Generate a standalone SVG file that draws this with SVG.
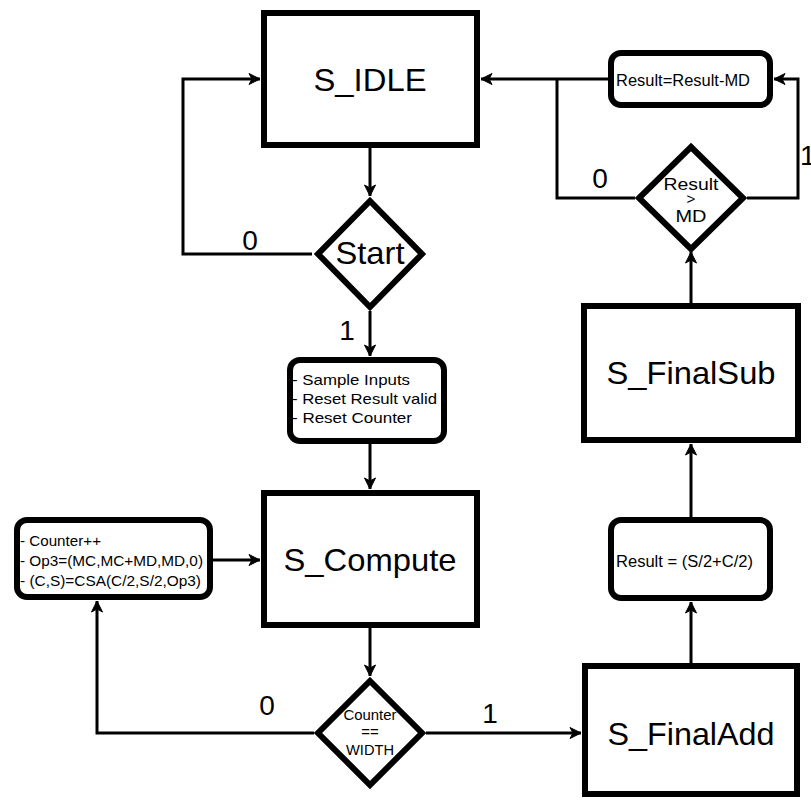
<svg xmlns="http://www.w3.org/2000/svg" width="811" height="801" viewBox="0 0 811 801">
  <style>
    .state { fill: #ffffff; stroke: #000000; stroke-width: 6; }
    .action { fill: #ffffff; stroke: #000000; stroke-width: 6; }
    .decision { fill: #ffffff; stroke: #000000; stroke-width: 6; stroke-linejoin: miter; }
    .edge { fill: none; stroke: #000000; stroke-width: 3; }
    .big { font-family: "Liberation Sans", Arial, sans-serif; font-size: 32px; fill: #000; text-anchor: middle; }
    .lbl { font-family: "Liberation Sans", Arial, sans-serif; font-size: 28px; fill: #000; text-anchor: middle; }
    .small { font-family: "Liberation Sans", Arial, sans-serif; font-size: 15px; fill: #000; }
    .mid { font-family: "Liberation Sans", Arial, sans-serif; font-size: 16px; fill: #000; }
    .dtxt { font-family: "Liberation Sans", Arial, sans-serif; fill: #000; text-anchor: middle; }
  </style>
  <defs>
    <marker id="arrow" markerUnits="userSpaceOnUse" viewBox="-12 -6 13 12" refX="0" refY="0" markerWidth="13" markerHeight="12" orient="auto">
      <path d="M-11,-5.5 L0,0 L-11,5.5 L-8,0 Z" fill="#000" stroke="#000" stroke-width="1"/>
    </marker>
  </defs>

  <rect width="811" height="801" fill="#ffffff"/>

  <!-- connectors and their branch labels -->
  <g id="connectors">
    <path class="edge" d="M370,148 L370,196" marker-end="url(#arrow)"/>
    <path class="edge" d="M312,254 L183,254 L183,79 L260,79" marker-end="url(#arrow)"/>
    <path class="edge" d="M370,311 L370,356" marker-end="url(#arrow)"/>
    <path class="edge" d="M370,444 L370,489" marker-end="url(#arrow)"/>
    <path class="edge" d="M213,560 L260,560" marker-end="url(#arrow)"/>
    <path class="edge" d="M370,628 L370,676" marker-end="url(#arrow)"/>
    <path class="edge" d="M314,733 L97,733 L97,601" marker-end="url(#arrow)"/>
    <path class="edge" d="M426,733 L581,733" marker-end="url(#arrow)"/>
    <path class="edge" d="M691,663 L691,602" marker-end="url(#arrow)"/>
    <path class="edge" d="M691,517 L691,444" marker-end="url(#arrow)"/>
    <path class="edge" d="M691,303 L691,252" marker-end="url(#arrow)"/>
    <path class="edge" d="M747,198 L798,198 L798,79 L774,79" marker-end="url(#arrow)"/>
    <path class="edge" d="M635,198 L557,198 L557,79"/>
    <path class="edge" d="M608,79 L481,79" marker-end="url(#arrow)"/>
    <text class="lbl" x="250" y="250">0</text>
    <text class="lbl" x="347" y="340">1</text>
    <text class="lbl" x="267" y="715">0</text>
    <text class="lbl" x="490" y="723">1</text>
    <text class="lbl" x="600" y="188">0</text>
    <text class="lbl" x="800" y="165" style="text-anchor:start">1</text>
  </g>

  <!-- states -->
  <g id="s_idle">
    <rect class="state" x="264" y="13" width="213" height="132"/>
    <text class="big" x="370" y="91" textLength="113" lengthAdjust="spacingAndGlyphs">S_IDLE</text>
  </g>
  <g id="start">
    <path class="decision" d="M370,201 L422,254 L370,307 L318,254 Z"/>
    <text class="big" x="370" y="264" textLength="69" lengthAdjust="spacingAndGlyphs">Start</text>
  </g>
  <g id="init_actions">
    <rect class="action" x="290" y="360" width="154" height="81" rx="10" ry="10"/>
    <text class="small" x="292" y="385" textLength="118" lengthAdjust="spacingAndGlyphs">- Sample Inputs</text>
    <text class="small" x="292" y="404" textLength="145" lengthAdjust="spacingAndGlyphs">- Reset Result valid</text>
    <text class="small" x="292" y="423" textLength="120" lengthAdjust="spacingAndGlyphs">- Reset Counter</text>
  </g>
  <g id="s_compute">
    <rect class="state" x="264" y="493" width="213" height="132"/>
    <text class="big" x="370" y="571" textLength="173" lengthAdjust="spacingAndGlyphs">S_Compute</text>
  </g>
  <g id="compute_actions">
    <rect class="action" x="17" y="520" width="193" height="77" rx="10" ry="10"/>
    <text class="small" x="20" y="546" textLength="81" lengthAdjust="spacingAndGlyphs">- Counter++</text>
    <text class="small" x="20" y="566" textLength="183" lengthAdjust="spacingAndGlyphs">- Op3=(MC,MC+MD,MD,0)</text>
    <text class="small" x="20" y="586" textLength="181" lengthAdjust="spacingAndGlyphs">- (C,S)=CSA(C/2,S/2,Op3)</text>
  </g>
  <g id="counter_check">
    <path class="decision" d="M370,681 L422,733 L370,785 L318,733 Z"/>
    <text class="dtxt" x="370" y="720" font-size="15" textLength="53" lengthAdjust="spacingAndGlyphs">Counter</text>
    <text class="dtxt" x="370" y="737" font-size="15">==</text>
    <text class="dtxt" x="370" y="755" font-size="15" textLength="48" lengthAdjust="spacingAndGlyphs">WIDTH</text>
  </g>
  <g id="s_finaladd">
    <rect class="state" x="585" y="666" width="212" height="128"/>
    <text class="big" x="691" y="745" textLength="167" lengthAdjust="spacingAndGlyphs">S_FinalAdd</text>
  </g>
  <g id="add_action">
    <rect class="action" x="611" y="520" width="159" height="78" rx="10" ry="10"/>
    <text class="mid" x="616" y="567" textLength="137" lengthAdjust="spacingAndGlyphs">Result = (S/2+C/2)</text>
  </g>
  <g id="s_finalsub">
    <rect class="state" x="584" y="306" width="214" height="134"/>
    <text class="big" x="691" y="384" textLength="169" lengthAdjust="spacingAndGlyphs">S_FinalSub</text>
  </g>
  <g id="result_check">
    <path class="decision" d="M691,147 L743,198 L691,249 L639,198 Z"/>
    <text class="dtxt" x="691" y="190" font-size="16" textLength="55" lengthAdjust="spacingAndGlyphs">Result</text>
    <text class="dtxt" x="691" y="204" font-size="15">&gt;</text>
    <text class="dtxt" x="691" y="222" font-size="16" textLength="31" lengthAdjust="spacingAndGlyphs">MD</text>
  </g>
  <g id="sub_action">
    <rect class="action" x="611" y="53" width="159" height="52" rx="10" ry="10"/>
    <text class="mid" x="616" y="86" textLength="134" lengthAdjust="spacingAndGlyphs">Result=Result-MD</text>
  </g>
</svg>
